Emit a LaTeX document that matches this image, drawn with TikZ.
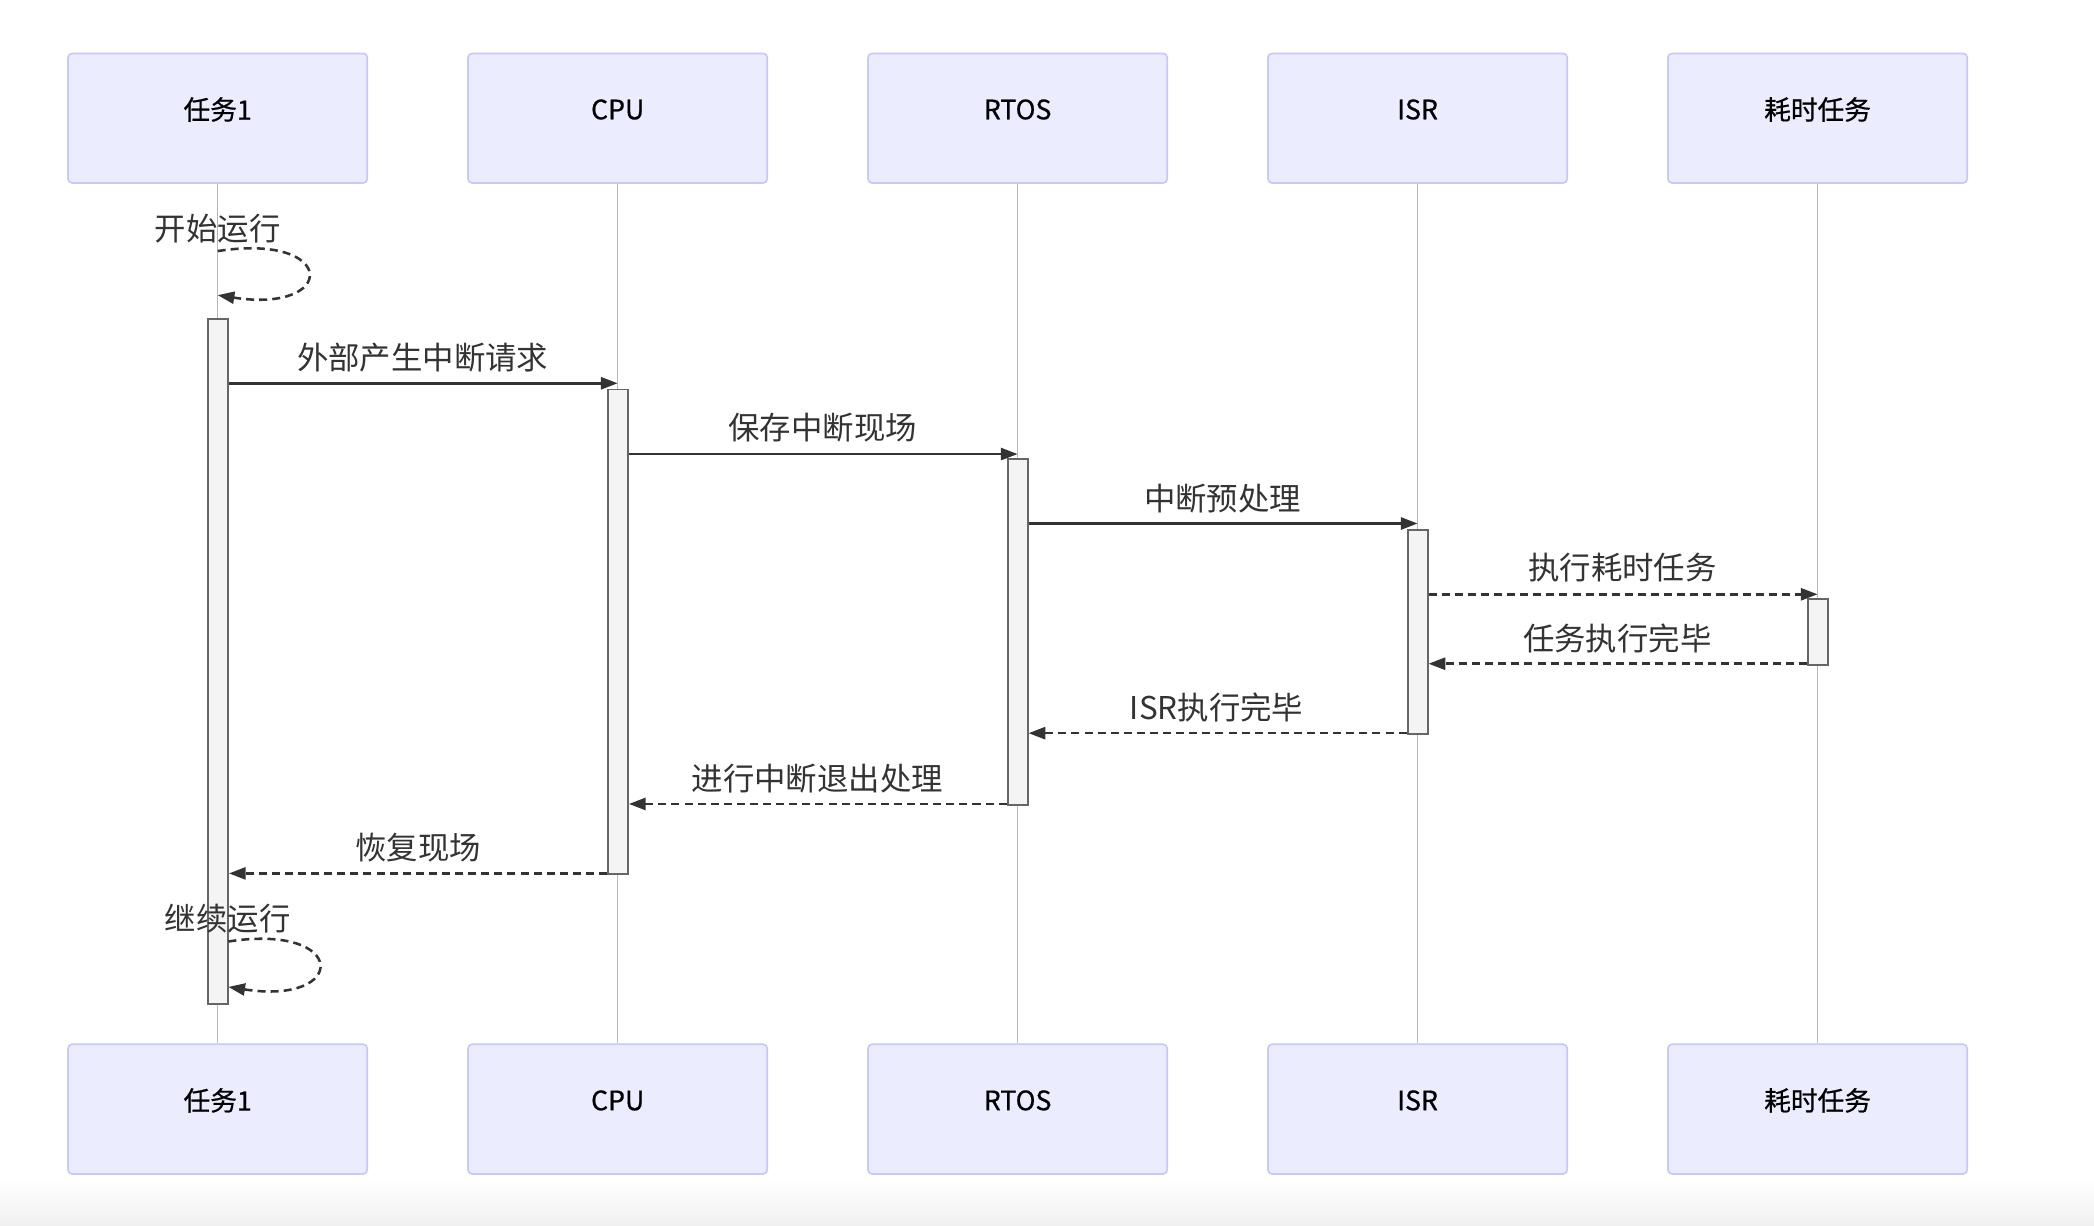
\documentclass[tikz,border=0pt]{standalone}
\usepackage{fontspec}
\setmainfont{Noto Sans CJK SC}
\newfontfamily\actfont[BoldFont={Noto Sans CJK SC}, BoldFeatures={FakeBold=0.7}]{Noto Sans CJK SC}
\usetikzlibrary{arrows.meta,calc}
\definecolor{actfill}{HTML}{ECECFF}
\definecolor{actborder}{HTML}{C9C9F6}
\definecolor{lifeline}{HTML}{B8B8B8}
\definecolor{ink}{HTML}{333333}
\definecolor{actvfill}{HTML}{F4F4F4}
\definecolor{actvborder}{HTML}{666666}
\tikzset{
  actor/.style={draw=actborder, fill=actfill, line width=1.3pt, rounded corners=3pt,
    minimum width=224pt, minimum height=97pt, inner sep=0pt},
  actorlabel/.style={font=\actfont\bfseries\fontsize{20}{24}\selectfont, text=black, inner sep=0pt},
  lifel/.style={draw=lifeline, line width=1pt},
  activ/.style={draw=actvborder, fill=actvfill, line width=1.4pt, minimum width=15pt,
    inner sep=0pt, anchor=north},
  msg/.style={draw=ink, line width=1.9pt, -{Triangle[length=12.5pt,width=9pt]}},
  rmsg/.style={msg, dash pattern=on 6pt off 3.8pt},
  msglabel/.style={font=\fontsize{23.5}{28}\selectfont, text=ink, inner sep=0pt}
}
\begin{document}
\begin{tikzpicture}[x=1pt,y=-1pt]
\useasboundingbox (0,0) rectangle (1568,918);
\fill[white] (0,0) rectangle (1568,918);
\shade[top color=white, bottom color=black!6] (0,883) rectangle (1568,918);

% actors top and bottom
\foreach \n/\x/\t in {1/163/任务1, 2/462.5/CPU, 3/762/RTOS, 4/1061.5/ISR, 5/1361/耗时任务}{
  \node[actor] (top\n) at (\x,88.5) {};
  \node[actorlabel] (topl\n) at (\x,82) {\t};
  \node[actor] (bot\n) at (\x,830.5) {};
  \node[actorlabel] (botl\n) at (\x,824) {\t};
  \draw[lifel] (top\n.south) -- (bot\n.north);
}

% activations
\node[activ, minimum height=513pt] (a1) at (163.25,238) {};
\node[activ, minimum height=363pt] (a2) at (462.75,291) {};
\node[activ, minimum height=259pt] (a3) at (762,343) {};
\node[activ, minimum height=153pt] (a4) at (1061.5,396) {};
\node[activ, minimum height=49pt] (a5) at (1361.5,448) {};

% message rows
\coordinate (m1) at (0,287);
\coordinate (m2) at (0,340);
\coordinate (m3) at (0,392);
\coordinate (m4) at (0,445);
\coordinate (m5) at (0,497);
\coordinate (m6) at (0,549);
\coordinate (m7) at (0,602);
\coordinate (m8) at (0,654);

% self loop 1
\coordinate (s1) at (163,188);
\coordinate (e1) at (163,221);
\draw[rmsg] (s1) .. controls ($(s1)+(90,-14)$) and ($(s1)+(90,47)$) .. (e1);
\node[msglabel] (lb0) at (163,171) {开始运行};

\draw[msg] (a1.east |- m1) -- (top2.south |- m1);
\node[msglabel] (lb1) at (316.5,268) {外部产生中断请求};

\draw[msg] (a2.east |- m2) -- (top3.south |- m2);
\node[msglabel] (lb2) at (616,320) {保存中断现场};

\draw[msg] (a3.east |- m3) -- (top4.south |- m3);
\node[msglabel] (lb3) at (915.5,373) {中断预处理};

\draw[rmsg] (a4.east |- m4) -- (top5.south |- m4);
\node[msglabel] (lb4) at (1215,425) {执行耗时任务};

\draw[rmsg] (a5.west |- m5) -- (a4.east |- m5);
\node[msglabel] (lb5) at (1211,478) {任务执行完毕};

\draw[rmsg] (a4.west |- m6) -- (a3.east |- m6);
\node[msglabel] (lb6) at (911,530) {ISR执行完毕};

\draw[rmsg] (a3.west |- m7) -- (a2.east |- m7);
\node[msglabel] (lb7) at (612,583) {进行中断退出处理};

\draw[rmsg] (a2.west |- m8) -- (a1.east |- m8);
\node[msglabel] (lb8) at (313,635) {恢复现场};

% self loop 2
\coordinate (s2) at (171,705);
\coordinate (e2) at (171,739);
\draw[rmsg] (s2) .. controls ($(s2)+(90,-14)$) and ($(s2)+(90,48)$) .. (e2);
\node[msglabel] (lb9) at (170.5,688) {继续运行};
\end{tikzpicture}
\end{document}
